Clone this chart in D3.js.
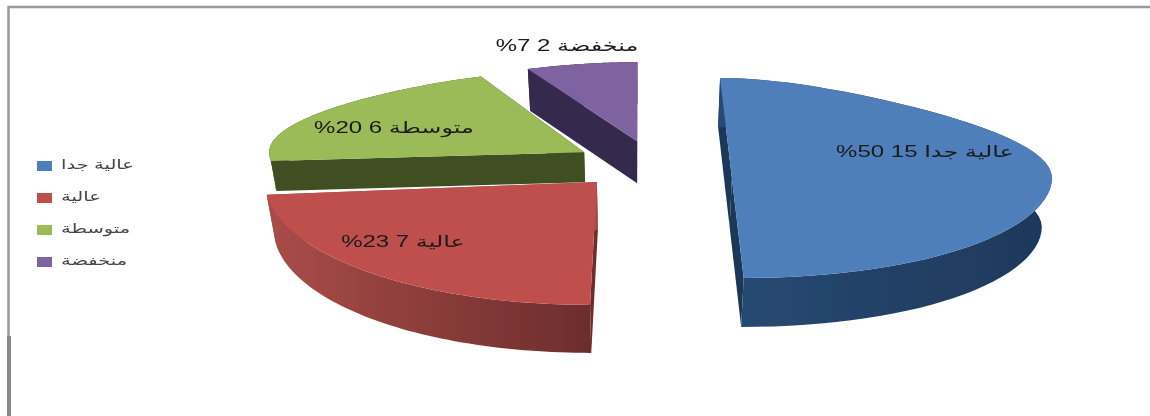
<!DOCTYPE html>
<html>
<head>
<meta charset="utf-8">
<script src="https://cdn.jsdelivr.net/npm/d3@7/dist/d3.min.js"></script>
<style>
  html, body { margin: 0; padding: 0; background: #fff; }
  svg { display: block; }
  text { font-family: "Liberation Sans", "DejaVu Sans", sans-serif; direction: rtl; unicode-bidi: embed; }
</style>
</head>
<body>
<div id="chart"></div>
<script>
const categories = ["عالية جدا", "عالية", "متوسطة", "منخفضة"]
const counts = [15, 7, 6, 2]
const percents = [50, 23, 20, 7]

const topColors = ["#4f7fba", "#bf504d", "#9bbb59", "#7f63a1"]
const wallLeft = ["#274a75", "#aa4c49", "#3f4f24", "#35294e"]
const wallRight = ["#1e3859", "#6c2d2c", "#3f4f24", "#35294e"]
const faceStart = ["#1e3859", "#6c2d2c", "#3f4f24", "#35294e"]
const faceEnd = ["#1e3859", "#aa4c49", "#3f4f24", "#35294e"]

// how far each slice is pulled out of the pie (x right, y to the viewer)
const pullX = [90, -42, -57, -3]
const pullY = [41, 53, -42, -80]
// the reference is a distorted 3d pie, so every slice keeps its own ellipse
const radiusX = [320, 332, 315, 320]
const radiusY = [100, 123, 83, 79]
const backNarrow = [0.35, 0, 0.19, 0.19] // far half of the pie gets narrower
const thickness = [49, 48, 30, 42]
const labelAt = [[925, 153], [403, 243], [394, 129], [567, 47]]

const width = 1150, height = 416

const cx = 640, cy = 165, tilt = 0.31, eye = 2000
const vanishY = -600   // cut edges run toward this height
const lowShrink = 0.0005 // the underside is a bit smaller

const svg = d3.select("#chart").append("svg")
  .attr("width", width)
  .attr("height", height)

const defs = svg.append("defs")
defs.append("filter").attr("id", "soft")
  .append("feGaussianBlur").attr("stdDeviation", 0.5)

categories.forEach((c, i) => {
  const g = defs.append("linearGradient").attr("id", "wall" + i)
  g.append("stop").attr("offset", "0%").attr("stop-color", wallLeft[i])
  g.append("stop").attr("offset", "100%").attr("stop-color", wallRight[i])
})

const root = svg.append("g").attr("filter", "url(#soft)")

// frame of the original picture
root.append("path")
  .attr("d", "M8.5,416V7H1150")
  .attr("fill", "none")
  .attr("stroke", "#9a9a9a")
  .attr("stroke-width", 2.5)
root.append("path")
  .attr("d", "M9,336V416")
  .attr("stroke", "#8a8a8a")
  .attr("stroke-width", 4)

const pie = d3.pie().sort(null)
const slices = pie(counts)
const line = d3.line()

// draw back to front so the red slice lands on top of the green wall
const order = [3, 2, 0, 1]

order.forEach(i => {
  const s = slices[i]
  const h = thickness[i]
  const p0 = eye / (eye - pullY[i])
  const ax = cx + pullX[i] * p0
  const ay = cy + pullY[i] * tilt * p0
  const shear = (ax - cx) / (ay - vanishY)

  const pt = (a, r, z) => {
    const c = Math.cos(a)
    const narrow = c > 0 ? 1 - backNarrow[i] * c * c : 1
    const y = ay - r * c * radiusY[i]
    // shear only near the cut edges, the round side stays round
    const x = ax + r * Math.sin(a) * radiusX[i] * narrow + shear * (y - ay) * c * c
    return [cx + (x - cx) * (1 - lowShrink * z), y + z]
  }

  const rim = d3.range(0, 61).map(k => s.startAngle + (s.endAngle - s.startAngle) * k / 60)
  const top = rim.map(a => pt(a, 1, 0))
  const bottom = rim.map(a => pt(a, 1, h))
  const centre = pt(0, 0, 0), centreLow = pt(0, 0, h)
  const g = root.append("g")

  // the two cut faces
  ;[[s.startAngle, faceStart[i]], [s.endAngle, faceEnd[i]]].forEach(f => {
    g.append("path")
      .attr("d", line([centre, pt(f[0], 1, 0), pt(f[0], 1, h), centreLow]) + "Z")
      .attr("fill", f[1])
  })

  // outer wall
  g.append("path")
    .attr("d", line(top.concat(bottom.slice().reverse())) + "Z")
    .attr("fill", "url(#wall" + i + ")")

  // top of the slice
  g.append("path")
    .attr("d", line([centre].concat(top)) + "Z")
    .attr("fill", topColors[i])
})

// labels, the original picture is stretched sideways
categories.forEach((c, i) => {
  root.append("text")
    .attr("transform", "translate(" + labelAt[i][0] + "," + labelAt[i][1] + ") scale(1.5,1)")
    .attr("text-anchor", "middle")
    .attr("dominant-baseline", "middle")
    .attr("font-size", 16)
    .attr("fill", "#1a1a1a")
    .text(c + " " + counts[i] + " " + percents[i] + "%")
})

// legend
const legendY = d3.scalePoint().domain(categories).range([166, 262])
const legend = root.selectAll(".legend")
  .data(categories)
  .enter().append("g")
    .attr("class", "legend")
    .attr("transform", d => "translate(37," + legendY(d) + ")")

legend.append("rect")
  .attr("x", 0)
  .attr("y", -5)
  .attr("width", 15)
  .attr("height", 10)
  .attr("fill", (d, i) => topColors[i])

legend.append("text")
  .attr("transform", "translate(24,0) scale(1.5,1)")
  .attr("text-anchor", "end")
  .attr("dominant-baseline", "middle")
  .attr("font-size", 13)
  .attr("fill", "#444")
  .text(d => d)
</script>
</body>
</html>
